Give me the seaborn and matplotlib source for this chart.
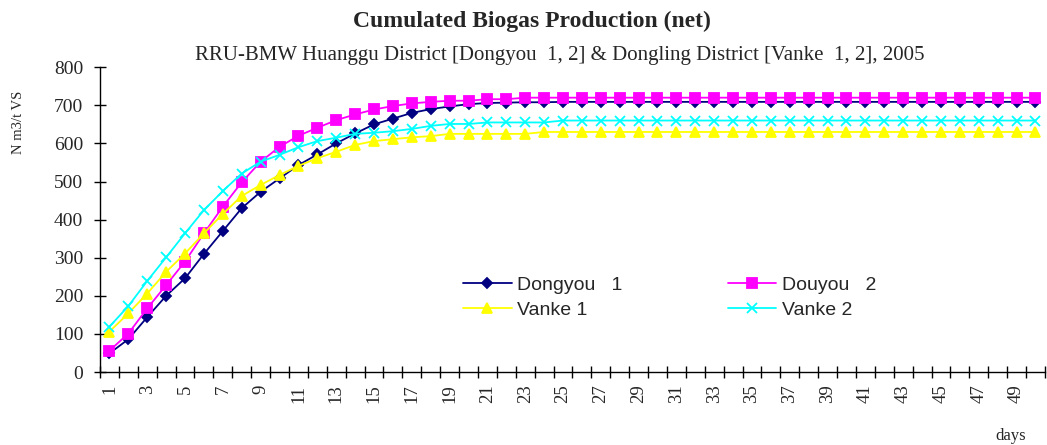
import numpy as np
import pandas as pd
import matplotlib
matplotlib.use("Agg")
import matplotlib.pyplot as plt
import seaborn as sns

# -------------------------------
# Data
# -------------------------------
days = list(range(1, 51))

dongyou1 = [49, 86, 144, 200, 246, 310, 370, 430, 473, 508,
            543, 571, 600, 626, 650, 665, 680, 690, 697, 703,
            706, 707, 708, 708, 709, 709, 709, 709, 709, 709,
            709, 709, 709, 709, 709, 709, 709, 709, 709, 709,
            709, 709, 709, 709, 709, 709, 709, 709, 709, 709]

douyou2 = [56, 101, 167, 228, 290, 364, 434, 498, 552, 591,
           620, 641, 661, 676, 689, 698, 705, 709, 712, 712,
           716, 716, 720, 720, 720, 720, 720, 720, 720, 720,
           720, 720, 720, 720, 720, 720, 720, 720, 720, 720,
           720, 720, 720, 720, 720, 720, 720, 720, 720, 720]

vanke1 = [106, 154, 206, 263, 311, 364, 415, 462, 491, 517,
          541, 561, 578, 596, 606, 611, 616, 619, 625, 625,
          625, 625, 625, 630, 630, 630, 630, 630, 630, 630,
          630, 630, 630, 630, 630, 630, 630, 630, 630, 630,
          630, 630, 630, 630, 630, 630, 630, 630, 630, 630]

vanke2 = [119, 173, 239, 301, 364, 425, 475, 521, 552, 570,
          590, 606, 615, 625, 628, 632, 638, 646, 651, 651,
          655, 655, 655, 655, 660, 660, 660, 660, 660, 660,
          660, 660, 660, 660, 660, 660, 660, 660, 660, 660,
          660, 660, 660, 660, 660, 660, 660, 660, 660, 660]

series = ["Dongyou   1", "Douyou   2", "Vanke 1", "Vanke 2"]
values = [dongyou1, douyou2, vanke1, vanke2]
colors = ["#000080", "#FF00FF", "#FFFF00", "#00FFFF"]
markers = ["D", "s", "^", "x"]
msizes = [5.5, 6.5, 7.5, 7.5]

# -------------------------------
# Plot
# -------------------------------
sns.set_style("white")
plt.rcParams["font.family"] = ["Liberation Serif", "DejaVu Serif"]

fig = plt.figure(figsize=(10.47, 4.45), dpi=100)
ax = fig.add_axes([0.0955, 0.164, 0.9025, 0.685])

for name, vals, c, m, ms in zip(series, values, colors, markers, msizes):
    sns.lineplot(x=days, y=vals, color=c, marker=m, markersize=ms,
                 markeredgecolor=c, markerfacecolor=c, markeredgewidth=1.3,
                 linewidth=1.3, label=name, ax=ax)

ax.set_xlim(0.5, 50.5)
ax.set_ylim(0, 800)
ax.set_yticks(range(0, 801, 100))
ax.set_xticks(range(1, 51, 2))
ax.set_xticklabels([str(d) for d in range(1, 51, 2)], rotation=90)
ax.set_xticks(np.arange(0.5, 51, 1), minor=True)
ax.tick_params(axis="x", which="major", length=0, labelsize=13.5, pad=9)
ax.tick_params(axis="x", which="minor", length=8, width=1, direction="inout",
               color="black", bottom=True)
ax.tick_params(axis="y", which="major", length=8, width=1, direction="inout",
               color="black", labelsize=14, left=True, pad=8)

for s in ["top", "right"]:
    ax.spines[s].set_visible(False)
for s in ["left", "bottom"]:
    ax.spines[s].set_color("black")
    ax.spines[s].set_linewidth(1)

ax.set_xlabel("")
ax.set_ylabel("")
fig.text(0.018, 0.726, "N m3/t VS", rotation=90, fontsize=10.5, ha="center", va="center")
fig.text(0.965, 0.003, "days", fontsize=12, ha="center", va="bottom")

fig.text(0.508, 0.952, "Cumulated Biogas Production (net)", fontsize=17,
         fontweight="bold", ha="center", va="center")
fig.text(0.535, 0.875, "RRU-BMW Huanggu District [Dongyou  1, 2] & Dongling District [Vanke  1, 2], 2005",
         fontsize=15, ha="center", va="center")

# legend filled row by row like the original
handles, labels = ax.get_legend_handles_labels()
order = [0, 2, 1, 3]
ax.legend([handles[i] for i in order], [labels[i] for i in order], ncol=2,
          frameon=False, loc="center", bbox_to_anchor=(0.603, 0.244),
          columnspacing=5.4, handlelength=2.5, handletextpad=0.3,
          labelspacing=0.35, prop={"family": "Liberation Sans", "size": 14})

plt.savefig("out.png", dpi=100)
